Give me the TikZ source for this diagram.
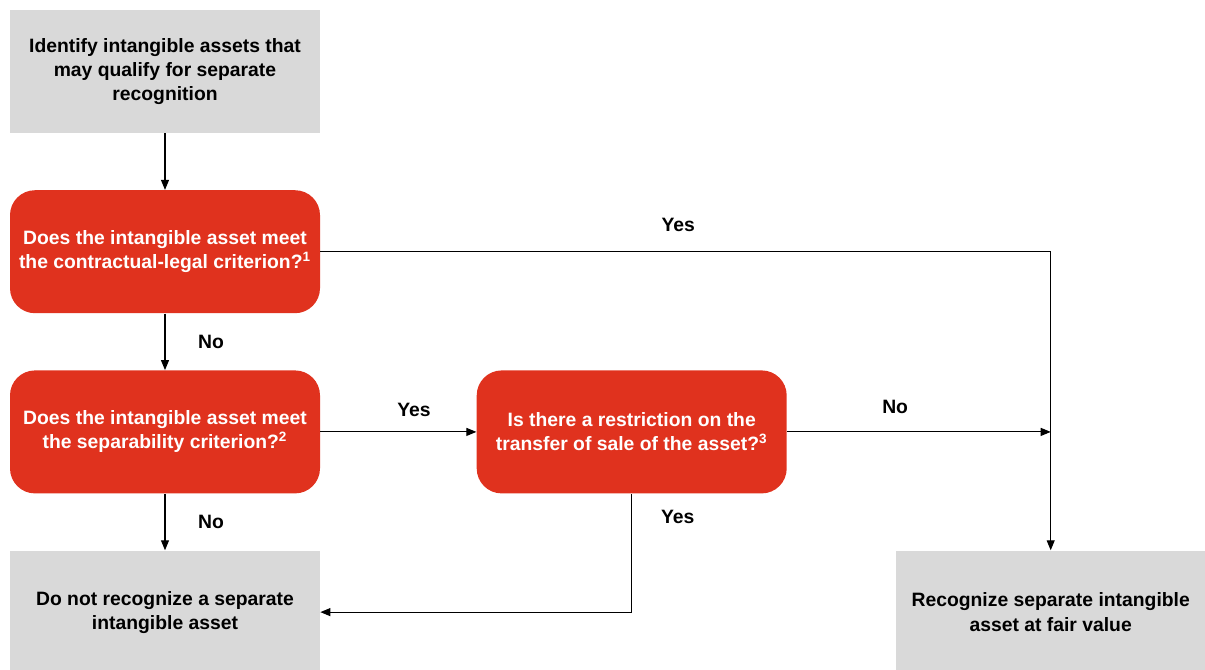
\documentclass[tikz,border=0pt]{standalone}
\usepackage{fontspec}
\setmainfont{Liberation Sans}
\usetikzlibrary{arrows.meta, positioning, calc}
\definecolor{questioncolor}{RGB}{224, 50, 30}
\definecolor{stepcolor}{RGB}{217, 217, 217}

\begin{document}
\begin{tikzpicture}[
    node distance=1.13cm and 3.12cm,
    >={Triangle[length=2mm, width=1.6mm]},
    stepbox/.style={rectangle, fill=stepcolor, minimum width=6.2cm, minimum height=2.46cm, align=center, font=\fontsize{11}{13.7}\selectfont\bfseries},
    question/.style={stepbox, fill=questioncolor, rounded corners=0.5cm, text=white},
    arrow/.style={->, line width=0.6pt},
    answer/.style={font=\fontsize{11}{13}\selectfont\bfseries}
]
\useasboundingbox (0,0) rectangle (24.1,-13.38);

% ========== START ==========
\node[stepbox] (identify) at (3.3,-1.43) {
    Identify intangible assets that\\
    may qualify for separate\\
    recognition
};

% ========== QUESTIONS ==========
\node[question, below=of identify] (legal) {
    Does the intangible asset meet\\
    the contractual-legal criterion?\textsuperscript{1}
};

\node[question, below=of legal] (separable) {
    Does the intangible asset meet\\
    the separability criterion?\textsuperscript{2}
};

\node[question, right=of separable] (restrict) {
    Is there a restriction on the\\
    transfer of sale of the asset?\textsuperscript{3}
};

% ========== OUTCOMES ==========
\node[stepbox, below=of separable] (norecog) {
    Do not recognize a separate\\
    intangible asset
};

\node[stepbox, right=11.5cm of norecog] (recog) {
    Recognize separate intangible\\
    asset at fair value
};

\coordinate (join) at (recog.north |- restrict.east);

% ========== ARROWS ==========
\draw[arrow] (identify.south) -- (legal.north);
\draw[arrow] (legal.east) -| node[answer, pos=0.245, yshift=0.53cm] {Yes} (recog.north);
\draw[arrow] (legal.south) -- node[answer, xshift=0.92cm] {No} (separable.north);
\draw[arrow] (separable.east) -- node[answer, pos=0.6, yshift=0.44cm] {Yes} (restrict.west);
\draw[arrow] (restrict.east) -- node[answer, pos=0.41, yshift=0.5cm] {No} (join);
\draw[arrow] (separable.south) -- node[answer, xshift=0.92cm] {No} (norecog.north);
\draw[arrow] (restrict.south) |- node[answer, pos=0.1, xshift=0.92cm] {Yes} (norecog.east);

\end{tikzpicture}
\end{document}
